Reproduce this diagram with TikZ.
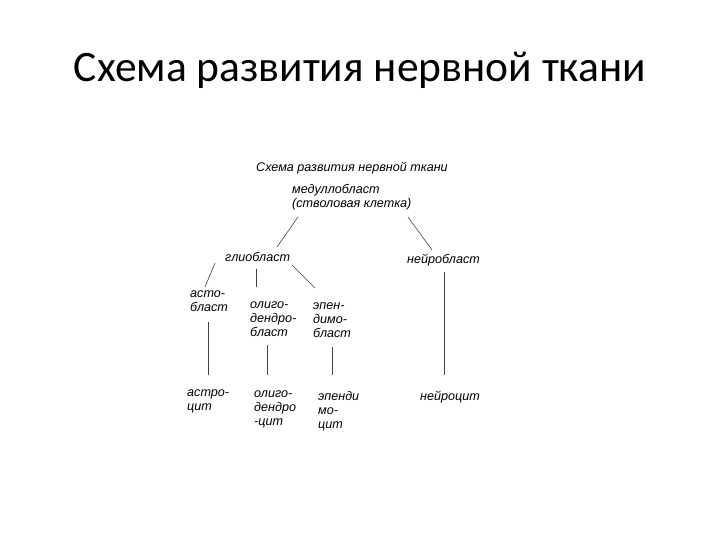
\documentclass[tikz,border=0pt]{standalone}
\usepackage{fontspec}
\setmainfont{Liberation Sans}
\newfontfamily\titlefont{Carlito}
\begin{document}
\begin{tikzpicture}[x=1pt,y=-1pt,
  lbl/.style={anchor=north west,inner sep=0pt,align=left,font=\fontsize{12.6}{14}\selectfont\itshape},
  ln/.style={draw=black!75,line width=0.6pt}]
\useasboundingbox (0,0) rectangle (720,540);
\node[font=\titlefont\fontsize{43.5}{46}\selectfont] (title) at (360,70) {Схема развития нервной ткани};
\node[lbl,anchor=center] (sub) at (352,168) {Схема развития нервной ткани};
\node[lbl] (med) at (292,184) {медуллобласт\\(стволовая клетка)};
\node[lbl] (glio) at (225,252) {глиобласт};
\node[lbl] (neiro) at (407,254) {нейробласт};
\node[lbl] (asto) at (190,291) {асто-\\бласт};
\node[lbl] (oligb) at (250,302) {олиго-\\дендро-\\бласт};
\node[lbl] (epb) at (313,303) {эпен-\\димо-\\бласт};
\node[lbl] (astc) at (187,390) {астро-\\цит};
\node[lbl] (oligc) at (254,391) {олиго-\\дендро\\-цит};
\node[lbl] (epc) at (318,391) {эпенди\\мо-\\цит};
\node[lbl] (nc) at (420,391) {нейроцит};
\coordinate (a1) at (298,217); \coordinate (a2) at (277,247);
\coordinate (b1) at (408,217); \coordinate (b2) at (432,250);
\draw[ln] (a1) -- (a2);
\draw[ln] (b1) -- (b2);
\coordinate (g1) at (215,263); \coordinate (g2) at (205,287);
\coordinate (g3) at (256,269); \coordinate (g4) at (256,287);
\coordinate (g5) at (292,265); \coordinate (g6) at (315,288);
\draw[ln] (g1) -- (g2); \draw[ln] (g3) -- (g4); \draw[ln] (g5) -- (g6);
\coordinate (n1) at (444,272); \coordinate (n2) at (444,375);
\draw[ln] (n1) -- (n2);
\coordinate (v1) at (208,322); \coordinate (v2) at (208,375);
\coordinate (v3) at (267,345); \coordinate (v4) at (267,375);
\coordinate (v5) at (332,347); \coordinate (v6) at (332,375);
\draw[ln] (v1) -- (v2); \draw[ln] (v3) -- (v4); \draw[ln] (v5) -- (v6);
\end{tikzpicture}
\end{document}
